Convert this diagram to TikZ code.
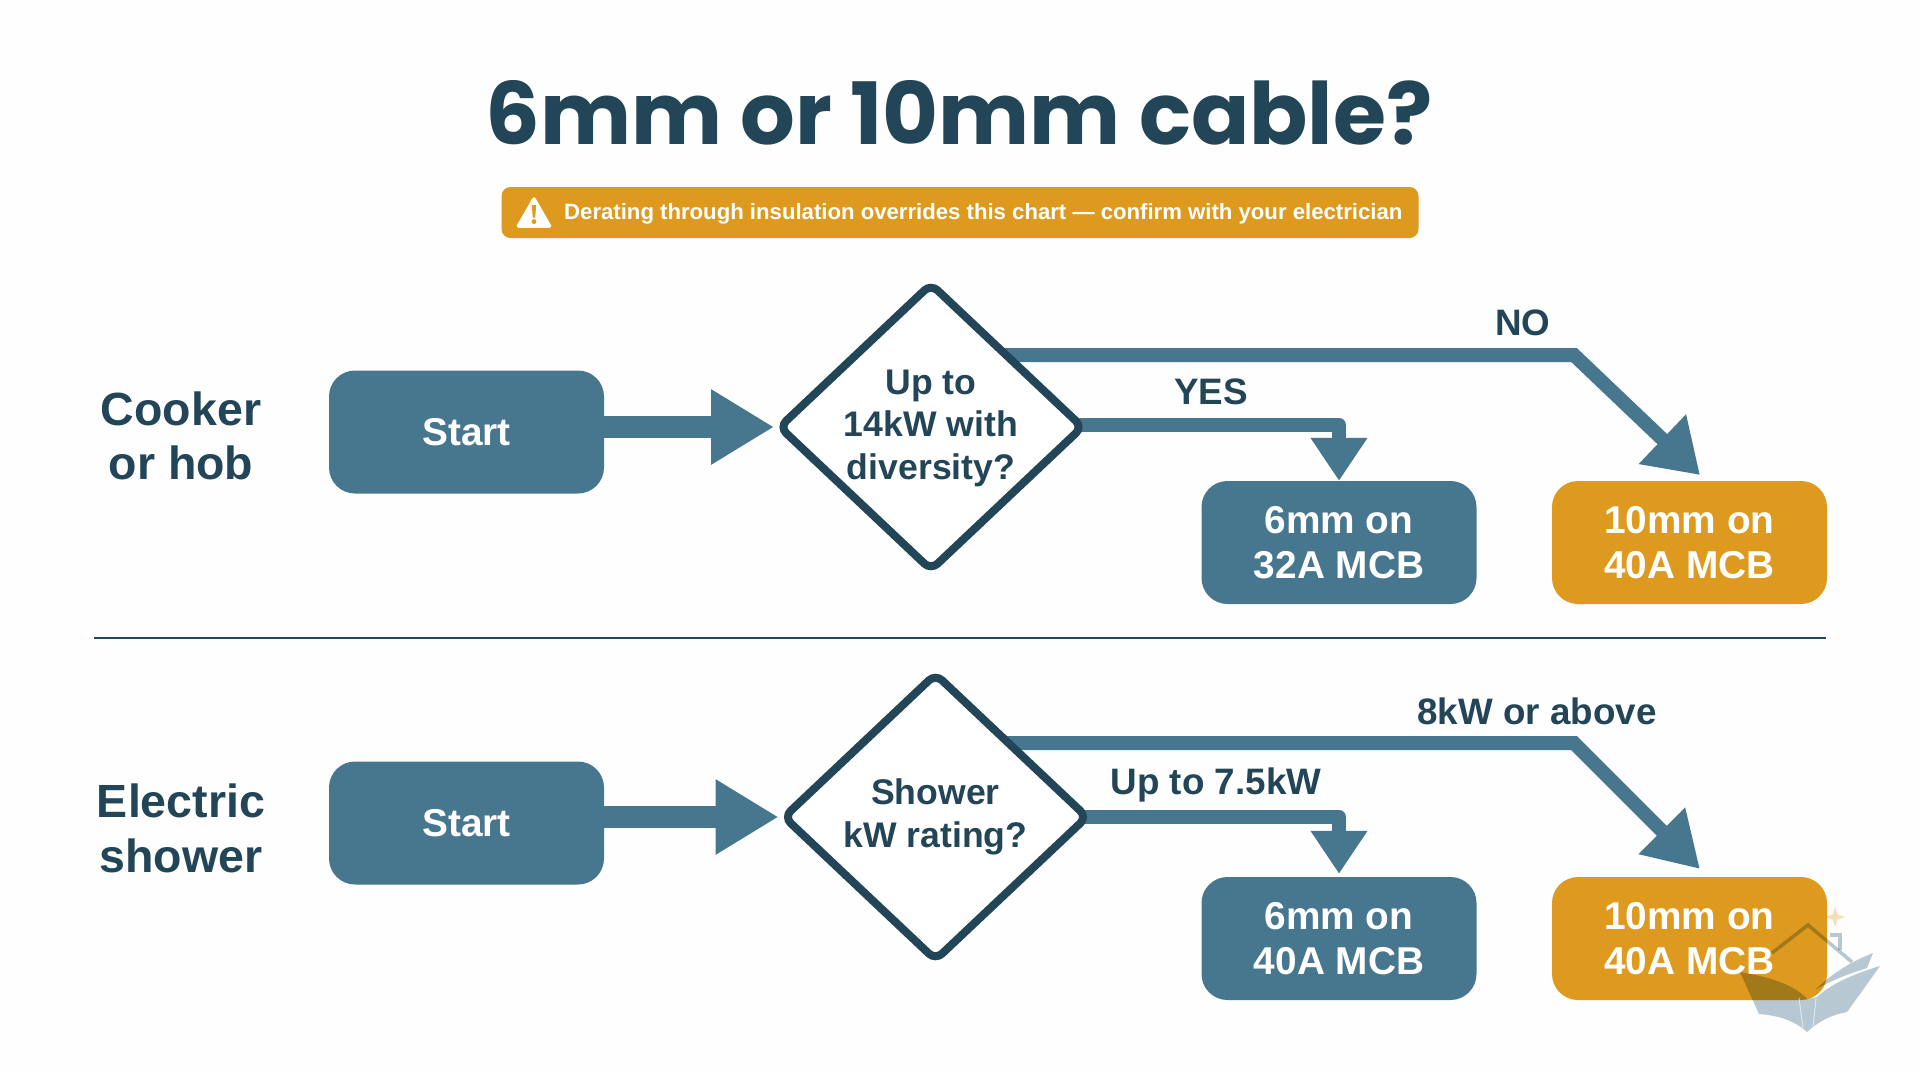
\documentclass[tikz,border=0pt]{standalone}
\usepackage{fontspec}
\setmainfont{Liberation Sans}
\newfontfamily\titlefont{Poppins}[BoldFont=Poppins Bold]
\usetikzlibrary{shapes.geometric,arrows.meta}
\pgfdeclarelayer{back}\pgfdeclarelayer{conn}\pgfsetlayers{back,conn,main}
\definecolor{bluebox}{HTML}{47778F}
\definecolor{navy}{HTML}{224558}
\definecolor{amber}{HTML}{DE9A1F}
\definecolor{paper}{HTML}{FDFEFD}
\definecolor{markgrey}{HTML}{B9C9D4}
\newcommand{\pxfont}[2]{\fontsize{#1}{#2}\selectfont}
\tikzset{
  x=1pt,y=-1pt,
  box/.style={rectangle,rounded corners=26pt,minimum width=275pt,minimum height=123pt,inner sep=0pt,align=center,text=white,font=\bfseries\pxfont{38.8}{44.5}},
  bluefill/.style={box,fill=bluebox},
  amberfill/.style={box,fill=amber},
  decision/.style={diamond,draw=navy,fill=white,line width=8pt,rounded corners=9pt,inner sep=0pt,aspect=1},
  decisiontext/.style={align=center,text=navy,inner sep=0pt,font=\bfseries\pxfont{35.6}{42.5}},
  sidelabel/.style={align=center,text=navy,inner sep=0pt,font=\bfseries\pxfont{46.5}{54.5}},
  branchlabel/.style={text=navy,inner sep=0pt,font=\bfseries\pxfont{36.8}{42}},
  thick flow/.style={draw=bluebox,line width=22pt},
  flow/.style={draw=bluebox,line width=14pt,line join=round},
  diagflow/.style={draw=bluebox,line width=14pt,line join=miter},
  watermark/.style={blend mode=multiply},
}
\begin{document}
\begin{tikzpicture}
\useasboundingbox (0,0) rectangle (1920,1072);
\begin{pgfonlayer}{back}
  \fill[paper] (0,0) rectangle (1920,1072);
\end{pgfonlayer}

\node[inner sep=0pt,text=navy,font=\titlefont\bfseries\pxfont{86}{90}] (title) at (959,113) {6mm or 10mm cable?};

\node[rectangle,fill=amber,rounded corners=9pt,minimum width=917pt,minimum height=51pt,inner sep=0pt] (banner) at (960,212.5) {};
\node[inner sep=0pt,text=white,font=\bfseries\pxfont{22.15}{26},anchor=west] (bannertext) at (564,214) {Derating through insulation overrides this chart — confirm with your electrician};
\fill[white,draw=white,line width=3.5pt,line join=round] (534,199) -- (549.5,226) -- (518.5,226) -- cycle;
\fill[amber] (531.8,205) -- (536.2,205) -- (535.2,217.5) -- (532.8,217.5) -- cycle;
\fill[amber] (534,221.6) circle (2.4pt);

% cooker row
\node[sidelabel] (cooker) at (181,436) {Cooker\\or hob};
\node[bluefill] (start1) at (466.5,432) {Start};
\node[decision,minimum width=306pt,minimum height=289pt] (d1) at (931,427) {};
\node[decisiontext] (d1t) at (931,428) {Up to\\14kW with\\diversity?};
\node[bluefill] (a1) at (1339,542.5) {6mm on\\32A MCB};
\node[amberfill] (b1) at (1689.5,542.5) {10mm on\\40A MCB};
\coordinate (c1) at (1574,355);
\coordinate (e1) at (1700,475);
\node[branchlabel] (no) at (1523,323) {NO};
\node[branchlabel] (yes) at (1211,392) {YES};

\node[rectangle,fill=navy,minimum width=1732pt,minimum height=2.5pt,inner sep=0pt] (rule) at (960,638) {};

% shower row
\node[sidelabel] (shower) at (181,828.5) {Electric\\shower};
\node[bluefill] (start2) at (466.5,823) {Start};
\node[decision,minimum width=306pt,minimum height=289pt] (d2) at (935.5,817) {};
\node[decisiontext] (d2t) at (935.5,817) {Shower\\kW rating?};
\node[bluefill] (a2) at (1339,938.5) {6mm on\\40A MCB};
\node[amberfill] (b2) at (1689.5,938.5) {10mm on\\40A MCB};
\coordinate (c2) at (1574,743);
\coordinate (e2) at (1700,869);
\node[branchlabel] (over) at (1537,711) {8kW or above};
\node[branchlabel] (upto) at (1216,785) {Up to 7.5kW};

\begin{pgfonlayer}{conn}
  \draw[thick flow,-{Triangle[length=63pt,width=71pt]}] (start1.east|-d1) -- (d1.west);
  \draw[flow,-{Triangle[length=43pt,width=54pt]},shorten <=-10pt] (d1.east) ++(0,-2) -| (a1.north);
  \draw[diagflow,-{Triangle[length=52pt,width=65pt]}] (d1.center|-c1) -- (c1) -- (e1);
  \draw[thick flow,-{Triangle[length=63pt,width=71pt]}] (start2.east|-d2) -- (d2.west);
  \draw[flow,-{Triangle[length=43pt,width=54pt]},shorten <=-10pt,shorten >=3pt] (d2.east) -| (a2.north);
  \draw[diagflow,-{Triangle[length=54pt,width=62pt]}] (d2.center|-c2) -- (c2) -- (e2);
\end{pgfonlayer}

% faint mark at lower right
\begin{scope}[watermark]
\fill[markgrey] (1740,972) -- (1759,1014) .. controls (1785,1016) and (1798,1024) .. (1807,1032) .. controls (1818,1022) and (1830,1015) .. (1847,1012) -- (1880,966) .. controls (1850,975) and (1830,985) .. (1817,997) -- (1807,999) .. controls (1795,985) and (1770,977) .. cycle;
\fill[markgrey] (1873,953) .. controls (1850,962) and (1830,975) .. (1815,990) .. controls (1835,978) and (1855,972) .. (1867,968) -- cycle;
\draw[markgrey,line width=3.5pt] (1772,953) -- (1808,925) -- (1852,962);
\draw[markgrey,line width=3.5pt] (1830,935) -- (1840,935) -- (1840,950);
\end{scope}
\draw[white,opacity=.55,line width=1pt] (1799,998) -- (1803,1028) (1816,998) -- (1813,1028);
\fill[amber,opacity=.3] (1835,907) -- (1837.5,914.5) -- (1845,917) -- (1837.5,919.5) -- (1835,927) -- (1832.5,919.5) -- (1825,917) -- (1832.5,914.5) -- cycle;
\end{tikzpicture}
\end{document}
